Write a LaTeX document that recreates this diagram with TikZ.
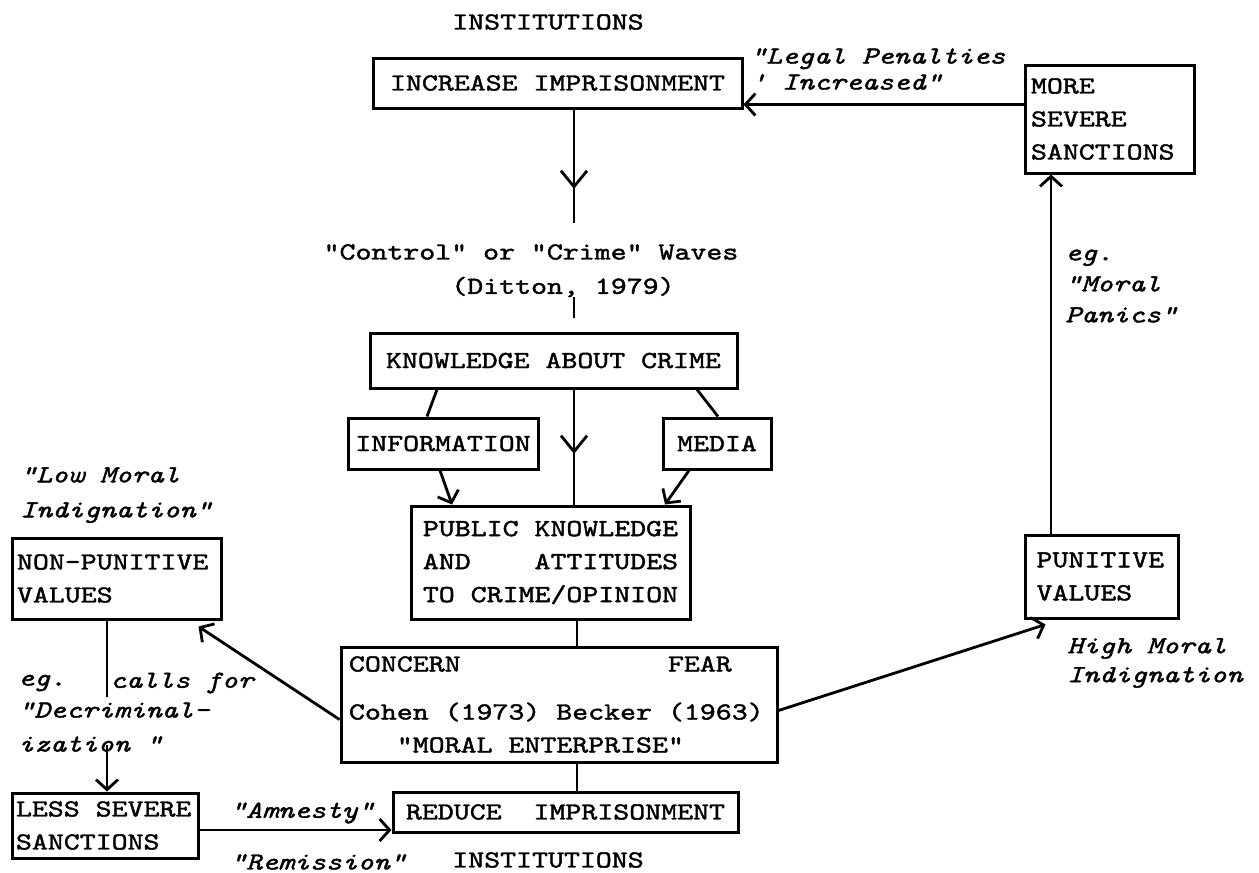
\documentclass[tikz,border=0pt]{standalone}
\usepackage{fontspec}
\newfontfamily\tw{lmmono10-regular.otf}[FakeStretch=1.24,FakeBold=1.6,ItalicFont=lmmono10-italic.otf]
\newcommand\twup{\tw\fontsize{24.5pt}{33pt}\selectfont}
\newcommand\twit{\tw\itshape\fontsize{24.5pt}{31pt}\selectfont}
\newcommand\tsp{\hphantom{X}}
\usetikzlibrary{arrows.meta,decorations.markings}
\begin{document}
\begin{tikzpicture}[x=1pt,y=-1pt,
  every node/.style={font=\twup, inner sep=0pt},
  box/.style={draw, line width=3pt, inner sep=0pt},
  lbox/.style={box, align=left},
  it/.style={font=\twit, align=left},
  conn/.style={line width=2.8pt},
  arr/.style={conn, -{Straight Barb[length=10pt,width=22pt,line width=2.8pt]}},
  midarr/.style={conn, decoration={markings, mark=at position #1 with {\arrow{Straight Barb[length=16pt,width=26pt,line width=2.8pt]}}}, postaction={decorate}},
]
\fill[white] (0,0) rectangle (1259,873);
\useasboundingbox (0,0) rectangle (1259,873);

% boxes
\node[box, minimum width=369pt, minimum height=50pt] (incr) at (557.5,83) {INCREASE\tsp IMPRISONMENT};
\node[lbox, text width=157pt, minimum width=169pt, minimum height=108pt] (more) at (1109.5,119) {MORE\\SEVERE\\SANCTIONS};
\node[box, minimum width=367pt, minimum height=55pt] (know) at (553.5,360.5) {KNOWLEDGE\tsp ABOUT\tsp CRIME};
\node[box, minimum width=190pt, minimum height=51pt] (info) at (443,443.5) {INFORMATION};
\node[box, minimum width=108pt, minimum height=51pt] (media) at (717,443.5) {MEDIA};
\node[box, align=center, minimum width=279pt, minimum height=113pt] (public) at (550.5,562.5) {PUBLIC\tsp KNOWLEDGE\\AND\tsp\tsp\tsp\tsp ATTITUDES\\TO\tsp CRIME/OPINION};
\node[lbox, text width=420pt, minimum width=436pt, minimum height=115pt] (concern) at (559,704.5) {CONCERN\tsp\tsp\tsp\tsp\tsp\tsp\tsp\tsp\tsp\tsp\tsp\tsp\tsp FEAR\\[15pt]Cohen\tsp(1973)\tsp Becker\tsp(1963)\\\tsp\tsp\tsp"MORAL\tsp ENTERPRISE"};
\node[box, minimum width=345pt, minimum height=40pt] (reduce) at (565.5,812) {REDUCE\tsp\tsp IMPRISONMENT};
\node[lbox, text width=199pt, minimum width=209pt, minimum height=81pt] (nonpun) at (116.5,578.5) {NON-PUNITIVE\\VALUES};
\node[lbox, text width=130pt, minimum width=153pt, minimum height=83pt] (punitive) at (1101.5,576.5) {PUNITIVE\\VALUES};
\node[lbox, text width=178pt, minimum width=186pt, minimum height=65pt] (less) at (105,825.5) {LESS\tsp SEVERE\\SANCTIONS};

% texts
\node (instA) at (548,22) {INSTITUTIONS};
\node[it, anchor=west] (legal) at (750,69) {"Legal\tsp Penalties\\[-5pt]'\tsp Increased"};
\node (waves) at (531,252) {"Control"\tsp or\tsp "Crime"\tsp Waves};
\node (ditton) at (563,287) {(Ditton,\tsp 1979)};
\node[it, anchor=west] (panics) at (1065,286) {eg.\\"Moral\\Panics"};
\node[it, anchor=west] (lowmoral) at (20,495) {"Low\tsp Moral\\[4pt]Indignation"};
\node[it, anchor=west] (highmoral) at (1067,663) {High\tsp Moral\\[-2pt]Indignation};
\node[it, anchor=west] (eg) at (18,683) {eg.};
\node[it, anchor=west] (calls) at (110,683) {calls\tsp for};
\node[it, anchor=west] (decrim) at (18,727) {"Decriminal-\\[3pt]ization\tsp"};
\node[it, anchor=west] (amnesty) at (230,813) {"Amnesty"};
\node[it, anchor=west] (remission) at (230,862) {"Remission"};
\node (instB) at (548,860) {INSTITUTIONS};

% helper coordinates
\coordinate (cx) at (574,0);
\coordinate (cx2) at (577,0);
\coordinate (inA) at ([yshift=5pt]incr.south east);
\coordinate (wavetop) at (574,223);
\coordinate (dittA) at (574,297);
\coordinate (dittB) at (574,318);
\coordinate (k1) at (437,0);
\coordinate (i1) at (427,0);
\coordinate (k2) at (697,0);
\coordinate (m1) at (718,0);
\coordinate (i2) at (440,0);
\coordinate (p1) at (452,0);
\coordinate (m2) at (689,0);
\coordinate (p2) at (665,0);
\coordinate (cL) at ([yshift=-15pt]concern.west);
\coordinate (npT) at ([xshift=-24pt,yshift=-6pt]nonpun.south east);
\coordinate (cR) at ([yshift=-6pt]concern.east);
\coordinate (puT) at ([xshift=22pt,yshift=-5pt]punitive.south west);
\coordinate (mx) at (1051,0);
\coordinate (lx) at (107,0);
\coordinate (brk1) at (107,697);
\coordinate (brk2) at (107,745);
\coordinate (rY) at (0,830);

% connectors
\draw[arr] (inA -| more.west) -- (inA);
\draw[midarr=0.7] (incr.south -| cx) -- (wavetop);
\draw[conn] (dittA) -- (dittB);
\draw[conn] (know.south -| k1) -- (info.north -| i1);
\draw[conn] (know.south -| k2) -- (media.north -| m1);
\draw[midarr=0.56] (know.south -| cx) -- (public.north -| cx);
\draw[arr] (info.south -| i2) -- (public.north -| p1);
\draw[arr] (media.south -| m2) -- (public.north -| p2);
\draw[conn] (public.south -| cx2) -- (concern.north -| cx2);
\draw[conn] (concern.south -| cx2) -- (reduce.north -| cx2);
\draw[arr] (cL) -- (npT);
\draw[arr] (cR) -- (puT);
\draw[arr] (punitive.north -| mx) -- (more.south -| mx);
\draw[conn] (nonpun.south -| lx) -- (brk1);
\draw[arr] (brk2) -- (less.north -| lx);
\draw[arr] (less.east |- rY) -- (reduce.west |- rY);
\end{tikzpicture}
\end{document}
